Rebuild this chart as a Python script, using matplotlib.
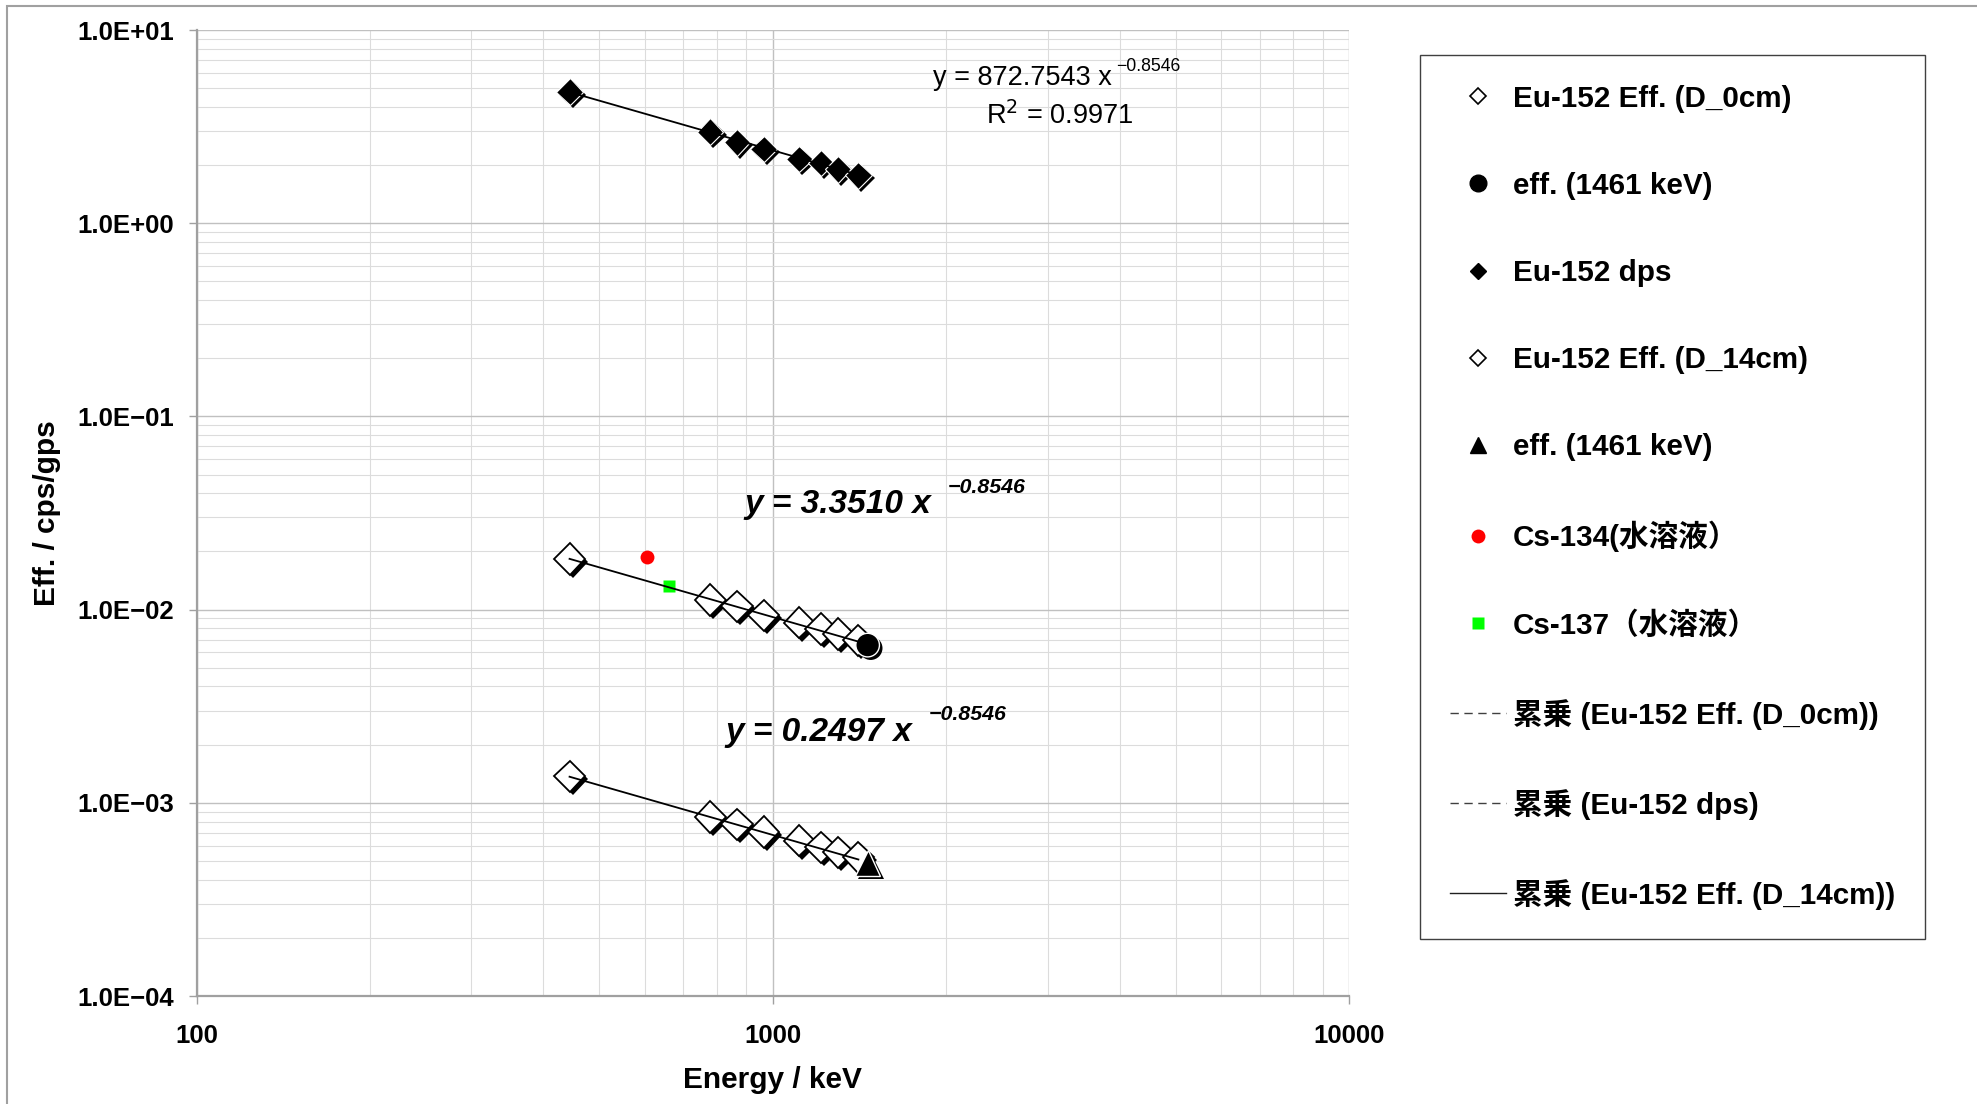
import numpy as np
import matplotlib
matplotlib.use('Agg')
import matplotlib.pyplot as plt
import matplotlib.patheffects as pe
from matplotlib.lines import Line2D
from matplotlib.patches import Rectangle
from matplotlib.font_manager import FontProperties
from matplotlib.ticker import FixedLocator, FuncFormatter, LogLocator, NullFormatter

plt.rcParams['font.family'] = ['Liberation Sans', 'Noto Sans CJK JP']

# Eu-152 gamma lines used for the calibration (keV)
energy = np.array([444.0, 778.9, 867.4, 964.1, 1112.1, 1213.0, 1299.1, 1408.0])
dps = np.array([4.80, 2.98, 2.62, 2.42, 2.15, 2.05, 1.90, 1.77])
eff_d0 = np.array([0.0183, 0.0112, 0.0104, 0.00935, 0.00855, 0.00793, 0.00746, 0.00693])
eff_d14 = np.array([0.00137, 0.000845, 0.000773, 0.000706, 0.000636, 0.000589, 0.000554, 0.000522])

# K-40 line and the Cs solutions
k40_energy = 1461.0
k40_eff_d0 = 0.00655
k40_eff_d14 = 0.00049
cs134_energy, cs134_eff = 604.7, 0.0187
cs137_energy, cs137_eff = 661.7, 0.0132

# power-law trendlines  y = a * x^b
fit_dps = (872.7543, -0.8546)
fit_d0 = (3.3510, -0.8546)
fit_d14 = (0.2497, -0.8546)
r2_dps = 0.9971

W, H = 1977, 1104
fig = plt.figure(figsize=(W / 100, H / 100), dpi=100)
ax = fig.add_axes([196.5 / W, 1 - 996 / H, (1349 - 196.5) / W, (996 - 30) / H])
ax.set_xscale('log')
ax.set_yscale('log')
ax.set_xlim(100, 10000)
ax.set_ylim(1e-4, 10)

shadow = [pe.SimplePatchShadow(offset=(2.2, -2.2), shadow_rgbFace='black', alpha=1.0), pe.Normal()]

ax.plot(energy, dps, ls='none', marker='D', ms=13.5, mfc='black', mec='white', mew=0.8,
        path_effects=shadow, zorder=3)
ax.plot(energy, eff_d0, ls='none', marker='D', ms=16, mfc='white', mec='black', mew=1.3,
        path_effects=shadow, zorder=3)
ax.plot([k40_energy], [k40_eff_d0], ls='none', marker='o', ms=17, mfc='black', mec='white', mew=1.0,
        path_effects=shadow, zorder=3)
ax.plot(energy, eff_d14, ls='none', marker='D', ms=16, mfc='white', mec='black', mew=1.3,
        path_effects=shadow, zorder=3)
ax.plot([k40_energy], [k40_eff_d14], ls='none', marker='^', ms=18.5, mfc='black', mec='white', mew=1.0,
        path_effects=shadow, zorder=3)
ax.plot([cs134_energy], [cs134_eff], ls='none', marker='o', ms=10, mfc='red', mec='none', zorder=3)
ax.plot([cs137_energy], [cs137_eff], ls='none', marker='s', ms=8, mfc='#00ff00', mec='none', zorder=3)

# trendlines over the Eu-152 range (straight on log-log)
xs = np.array([energy.min(), energy.max()])
for a, b in (fit_dps, fit_d0, fit_d14):
    ax.plot(xs, a * xs ** b, color='black', lw=1.3, zorder=4)

# trendline equations
ax.text(1900, 5.64, f'y = {fit_dps[0]:.4f} x', fontsize=19.5, va='center', ha='left')
ax.text(3945, 6.51, f'\u2212{abs(fit_dps[1]):.4f}', fontsize=12.7, va='center', ha='left')
ax.text(2349, 3.59, f'R$^2$ = {r2_dps:.4f}', fontsize=19.5, va='center', ha='left')

ax.text(892.5, 0.0352, f'y = {fit_d0[0]:.4f} x', fontsize=24, fontweight='bold', fontstyle='italic',
        va='center', ha='left')
ax.text(2009, 0.0431, f'\u2212{abs(fit_d0[1]):.4f}', fontsize=15.4, fontweight='bold', fontstyle='italic',
        va='center', ha='left')
ax.text(827, 0.00232, f'y = {fit_d14[0]:.4f} x', fontsize=24, fontweight='bold', fontstyle='italic',
        va='center', ha='left')
ax.text(1862, 0.00288, f'\u2212{abs(fit_d14[1]):.4f}', fontsize=15.4, fontweight='bold', fontstyle='italic',
        va='center', ha='left')

# axes, ticks and grid
ax.xaxis.set_major_locator(FixedLocator([100, 1000, 10000]))
ax.xaxis.set_minor_locator(LogLocator(base=10, subs=np.arange(2, 10)))
ax.xaxis.set_major_formatter(FuncFormatter(lambda v, p: f'{v:.0f}'))
ax.xaxis.set_minor_formatter(NullFormatter())
ax.yaxis.set_major_locator(FixedLocator(10.0 ** np.arange(-4, 2)))
ax.yaxis.set_minor_locator(LogLocator(base=10, subs=np.arange(2, 10)))
ax.yaxis.set_major_formatter(FuncFormatter(lambda v, p: f'{v:.1E}'.replace('-', '\u2212')))
ax.yaxis.set_minor_formatter(NullFormatter())

ax.tick_params(which='minor', length=0)
ax.tick_params(axis='y', which='major', direction='out', length=6, width=1, color='#a0a0a0', pad=10,
               labelsize=18.5)
ax.tick_params(axis='x', which='major', direction='out', length=6, width=1, color='#a0a0a0', pad=14,
               labelsize=18.5)
for lbl in ax.get_xticklabels() + ax.get_yticklabels():
    lbl.set_fontweight('bold')

ax.grid(which='major', color='#c0c0c0', lw=1.0)
ax.grid(which='minor', color='#dcdcdc', lw=0.8)
ax.set_axisbelow(True)
for side in ('top', 'right'):
    ax.spines[side].set_visible(False)
for side in ('left', 'bottom'):
    ax.spines[side].set_color('#a0a0a0')
    ax.spines[side].set_linewidth(1.6)

ax.set_xlabel('Energy / keV', fontsize=21.5, fontweight='bold', labelpad=13)
ax.set_ylabel('Eff. / cps/gps', fontsize=21.5, fontweight='bold', labelpad=12)

# legend
handles = [
    Line2D([], [], ls='none', marker='D', ms=8.5, mfc='white', mec='black', mew=1.2),
    Line2D([], [], ls='none', marker='o', ms=12, mfc='black', mec='black'),
    Line2D([], [], ls='none', marker='D', ms=8, mfc='black', mec='black'),
    Line2D([], [], ls='none', marker='D', ms=8.5, mfc='white', mec='black', mew=1.2),
    Line2D([], [], ls='none', marker='^', ms=12, mfc='black', mec='black'),
    Line2D([], [], ls='none', marker='o', ms=10, mfc='red', mec='none'),
    Line2D([], [], ls='none', marker='s', ms=8, mfc='#00ff00', mec='none'),
    Line2D([], [], ls=(0, (6, 4)), lw=1.0, color='#404040'),
    Line2D([], [], ls=(0, (6, 4)), lw=1.0, color='#404040'),
    Line2D([], [], ls='-', lw=1.0, color='#202020'),
]
labels = [
    'Eu-152 Eff. (D_0cm)',
    'eff. (1461 keV)',
    'Eu-152 dps',
    'Eu-152 Eff. (D_14cm)',
    'eff. (1461 keV)',
    'Cs-134(水溶液）',
    'Cs-137（水溶液）',
    '累乗 (Eu-152 Eff. (D_0cm))',
    '累乗 (Eu-152 dps)',
    '累乗 (Eu-152 Eff. (D_14cm))',
]
leg = fig.legend(handles, labels, loc='upper left', bbox_to_anchor=(1420 / W, 1 - 55 / H),
                 borderaxespad=0, borderpad=1.0, labelspacing=2.0, handlelength=1.9, handletextpad=0.25,
                 fancybox=False, framealpha=1,
                 prop=FontProperties(family=['Liberation Sans', 'Noto Sans CJK JP'], weight='bold', size=21.3))
leg.get_frame().set_edgecolor('#404040')
leg.get_frame().set_linewidth(1.0)

# chart area border
fig.add_artist(Rectangle((7 / W, -0.05), 1.1, 1.05 - 6 / H, transform=fig.transFigure, fill=False,
                         ec='#a0a0a0', lw=1.5, clip_on=False))

fig.savefig('out.png', dpi=100)
